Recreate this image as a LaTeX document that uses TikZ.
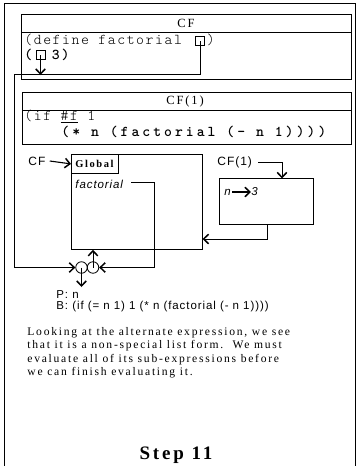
\documentclass[tikz,border=0pt]{standalone}
\usepackage{fontspec}
\setmainfont{Liberation Serif}
\setsansfont{Liberation Sans}
\usetikzlibrary{arrows.meta}
% spaced-out faces for code, labels and prose
\newfontfamily\codefont{lmmonolt10-regular}[Extension=.otf, LetterSpace=10.5]
\newfontfamily\codebold{lmmonolt10-bold}[Extension=.otf, LetterSpace=14]
\newfontfamily\codewide{lmmonolt10-bold}[Extension=.otf, LetterSpace=20]
\newfontfamily\labelfont{Liberation Sans}[LetterSpace=8]
\newfontfamily\parafont{Liberation Serif}[LetterSpace=15]
\newfontfamily\titlefont{Liberation Serif}[LetterSpace=15]

\begin{document}
\begin{tikzpicture}[x=1pt, y=-1pt, line width=0.8pt,
  box/.style={draw, rectangle, inner sep=0pt, anchor=north west},
  sqbox/.style={draw, rectangle, inner sep=0pt, minimum size=9pt, line width=0.7pt},
  tip/.style={-{Straight Barb[length=5pt,width=9.5pt,line width=1.5pt]}},
  ring/.style={draw, circle, minimum size=11.5pt, inner sep=0pt},
  code/.style={anchor=base west, inner sep=0pt, font=\codefont\fontsize{15}{17}\selectfont},
  title/.style={inner sep=0pt, font=\titlefont\fontsize{12.5}{14}\selectfont},
  lab/.style={inner sep=0pt, font=\labelfont\fontsize{12}{14}\selectfont},
  slab/.style={inner sep=0pt, font=\labelfont\fontsize{11.5}{13}\selectfont},
  ilab/.style={inner sep=0pt, font=\labelfont\itshape\fontsize{11.5}{13}\selectfont},
  prose/.style={anchor=base west, inner sep=0pt, font=\parafont\fontsize{11.6}{13}\selectfont}
]
\useasboundingbox (0,0) rectangle (359,466);

% outer frame, running off the bottom of the page
\draw (4,472) -- (4,3) -- (355,3) -- (355,472);
\draw[line width=1.4pt] (355.3,3) -- (355.3,472);

% ---- frame CF ----
\node[box, minimum width=330pt, minimum height=65pt] (cfbox) at (21,14) {};
\draw (21,32) -- (351,32);
\node[title] (cftitle) at (186,23) {CF};
\node[code] (defline) at (24,44) {(define factorial\hspace{25pt})};
\node[code, font=\codebold\fontsize{15}{17}\selectfont] (appline) at (24,59) {(\hspace{19.5pt}3)};
\node[sqbox] (sq1) at (200,41) {};
\node[sqbox] (sq2) at (40.5,55) {};

% ---- frame CF(1) ----
\node[box, minimum width=329pt, minimum height=52pt] (cf1box) at (22,92) {};
\draw (22,110) -- (351,110);
\node[title] (cf1title) at (185,101) {CF(1)};
\node[code] (ifline) at (24,120.5) {(if \underline{\#f} 1};
\node[code, font=\codewide\fontsize{15}{17}\selectfont] (altline) at (61,136.5) {(* n (factorial (- n 1))))};

% ---- environments ----
\node[box, minimum width=131pt, minimum height=95pt] (glob) at (71,154) {};
\node[box, minimum width=47pt, minimum height=19pt] (glab) at (71,154) {};
\node[inner sep=0pt, font=\titlefont\bfseries\fontsize{10.5}{12}\selectfont] (globtxt) at (94.5,164) {Global};
\node[lab, anchor=west] (cflab) at (28,161) {CF};
\node[ilab, anchor=west] (fact) at (75,184) {factorial};

\node[box, minimum width=94pt, minimum height=46pt] (env) at (219,178) {};
\node[lab, anchor=west] (envlab) at (217,162) {CF(1)};
\node[ilab, anchor=west] (nvar) at (224,192) {n};
\node[ilab, anchor=west] (three) at (251,192) {3};

% ---- closure ----
\node[ring] (ring1) at (81.5,267.5) {};
\node[ring] (ring2) at (93,267.5) {};
\node[slab, anchor=base west] (ptxt) at (56,298.5) {P: n};
\node[slab, anchor=base west] (btxt) at (56,309.5) {B: (if (= n 1) 1 (* n (factorial (- n 1))))};

% ---- connectors ----
\coordinate (bendA) at (14,74);
\coordinate (sq2end) at (40.5,75);
\coordinate (fline) at (131,182);
\coordinate (fbend) at (154,182);
\coordinate (envtop) at (282,178.5);
\coordinate (envout) at (267,224);
\coordinate (gin) at (202.5,239);
\coordinate (pdown) at (81.5,287);

\draw[tip] (sq1.center) |- (bendA) |- (ring1.west);
\draw[tip] (sq2.center) -- (sq2end);
\draw[tip, line width=1.1pt] ([xshift=4pt]cflab.east) -- (glab.west);
\draw[tip] (fline) -- (fbend) |- (ring2.east);
\draw[tip] (ring2.center) -- (ring2.center |- glob.south);
\draw[tip] (ring1.center) -- (pdown);
\draw[tip] ([xshift=6pt]envlab.east) -| (envtop);
\draw[tip] (envout) |- (gin);
\draw[tip, line width=1.3pt] ([xshift=1pt]nvar.east) -- (three.west);

% ---- explanation ----
\node[prose] (p1) at (27,335.5) {Looking at the alternate expression, we see};
\node[prose] (p2) at (27,348.8) {that it is a non-special list form.\ \ We must};
\node[prose] (p3) at (27,362.1) {evaluate all of its sub-expressions before};
\node[prose] (p4) at (27,375.4) {we can finish evaluating it.};

\node[inner sep=0pt, font=\titlefont\bfseries\fontsize{19}{22}\selectfont] (step) at (176,455) {Step 11};
\end{tikzpicture}
\end{document}
